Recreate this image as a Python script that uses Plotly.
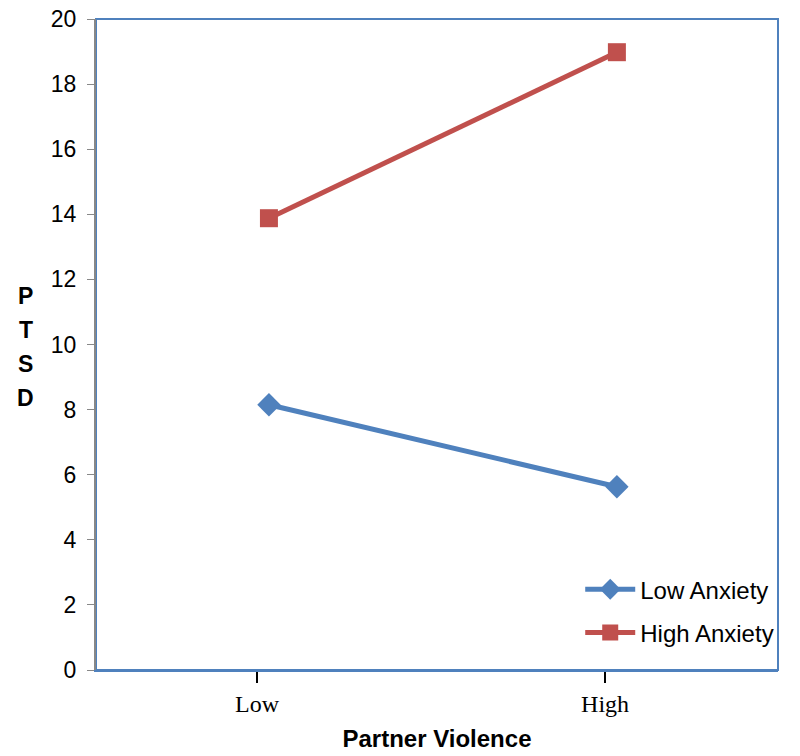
import plotly.graph_objects as go

categories = ["Low", "High"]
low_anxiety = [8.15, 5.63]
high_anxiety = [13.88, 18.98]
series_names = ["Low Anxiety", "High Anxiety"]
y_title_letters = ["P", "T", "S", "D"]

xs = list(range(len(categories)))
tick_shift = -0.034

fig = go.Figure()
fig.add_trace(go.Scatter(
    x=xs, y=low_anxiety, name=series_names[0], mode="lines+markers", legendgroup="a",
    line=dict(color="#4F81BD", width=5),
    marker=dict(symbol="diamond", size=18, color="#4F81BD"),
))
fig.add_trace(go.Scatter(
    x=xs, y=high_anxiety, name=series_names[1], mode="lines+markers", legendgroup="b",
    line=dict(color="#C0504D", width=5),
    marker=dict(symbol="square", size=18, color="#C0504D"),
))

annotations = []
for i, letter in enumerate(y_title_letters):
    annotations.append(dict(
        text=f"<b>{letter}</b>", xref="paper", yref="paper",
        x=-0.103, y=0.574, yshift=-34 * i, xanchor="center", yanchor="middle",
        showarrow=False, font=dict(size=23)))

fig.update_layout(
    width=800, height=756,
    margin=dict(l=96, r=22, t=19, b=86, autoexpand=False),
    plot_bgcolor="white", paper_bgcolor="white",
    font=dict(family="Liberation Sans, Arial, sans-serif", size=24, color="black"),
    showlegend=True,
    legend=dict(x=0.71, y=0.158, xanchor="left", yanchor="top",
                bgcolor="rgba(0,0,0,0)", font=dict(size=24),
                tracegroupgap=9, itemwidth=50),
    shapes=[dict(type="rect", xref="paper", yref="paper", x0=0, x1=1, y0=0, y1=1,
                 line=dict(color="#4F81BD", width=2), layer="below")],
    annotations=annotations,
)
fig.update_xaxes(
    range=[-0.497, 1.463], tickvals=[x + tick_shift for x in xs], ticktext=categories,
    ticks="outside", ticklen=11, tickcolor="black", tickwidth=1.5,
    showline=True, linecolor="#4F81BD", linewidth=2, showgrid=False, zeroline=False,
    tickfont=dict(family="Liberation Serif, Times New Roman, serif", size=24),
    ticklabelstandoff=0, automargin=False,
    title=dict(text="<b>Partner Violence</b>", font=dict(size=24), standoff=14),
)
fig.update_yaxes(
    range=[0, 20], dtick=2, ticks="outside", ticklen=7, tickcolor="#888888",
    showline=True, linecolor="#888888", linewidth=2, showgrid=False, zeroline=False,
    tickfont=dict(size=23), ticklabelstandoff=6, automargin=False,
)

fig.write_html("out.html", post_script="document.body.style.margin='0';",
               config={"displayModeBar": False})
